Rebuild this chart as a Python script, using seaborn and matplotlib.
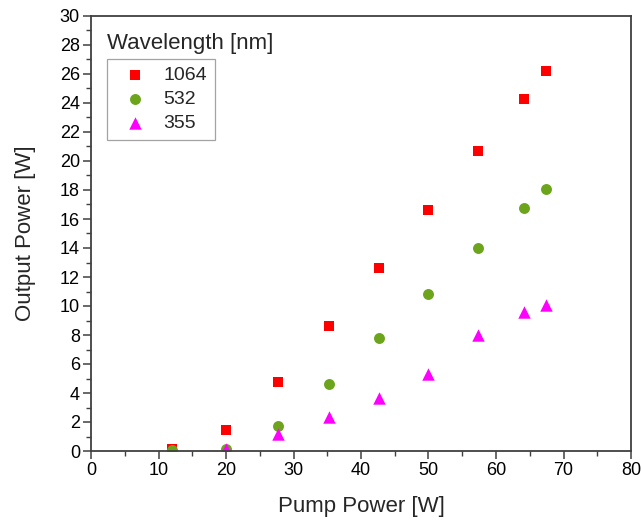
import numpy as np
import pandas as pd
import matplotlib
matplotlib.use("Agg")
import matplotlib.pyplot as plt
import seaborn as sns
from matplotlib.ticker import MultipleLocator

pump_1064 = [12.0, 20.0, 27.7, 35.2, 42.7, 50.0, 57.3, 64.2, 67.4]
out_1064 = [0.15, 1.45, 4.75, 8.65, 12.65, 16.6, 20.7, 24.3, 26.2]
pump_532 = [12.0, 20.0, 27.7, 35.2, 42.7, 50.0, 57.3, 64.2, 67.4]
out_532 = [0.05, 0.15, 1.7, 4.65, 7.8, 10.8, 14.0, 16.75, 18.1]
pump_355 = [20.0, 27.7, 35.2, 42.7, 50.0, 57.3, 64.2, 67.4]
out_355 = [0.15, 1.15, 2.35, 3.65, 5.3, 8.0, 9.6, 10.1]

labels = ["1064", "532", "355"]
colors = ["#FF0000", "#6CA51C", "#FF00FF"]
markers = ["s", "o", "^"]

df = pd.concat([
    pd.DataFrame({"pump": pump_1064, "out": out_1064, "wl": "1064"}),
    pd.DataFrame({"pump": pump_532, "out": out_532, "wl": "532"}),
    pd.DataFrame({"pump": pump_355, "out": out_355, "wl": "355"}),
])

sns.set_style("ticks")
plt.rcParams["font.family"] = ["Liberation Sans", "DejaVu Sans"]

fig = plt.figure(figsize=(6.41, 5.22), dpi=100)
ax = fig.add_axes([91/641, 71/522, 540/641, 435/522])

sizes = {"1064": 55, "532": 62, "355": 80}
for lab, col, mk in zip(labels, colors, markers):
    sub = df[df["wl"] == lab]
    sns.scatterplot(data=sub, x="pump", y="out", color=col, marker=mk,
                    s=sizes[lab], linewidth=0, ax=ax, label=lab)

ax.set_xlim(0, 80)
ax.set_ylim(0, 30)
ax.xaxis.set_major_locator(MultipleLocator(10))
ax.xaxis.set_minor_locator(MultipleLocator(5))
ax.yaxis.set_major_locator(MultipleLocator(2))
ax.yaxis.set_minor_locator(MultipleLocator(1))
ax.tick_params(which="major", direction="out", length=6, width=1.1, color="#404040",
               labelsize=13, labelcolor="black", pad=2)
ax.tick_params(which="minor", direction="out", length=3.5, width=1.0, color="#404040")
for sp in ax.spines.values():
    sp.set_visible(True)
    sp.set_color("#404040")
    sp.set_linewidth(1.3)

ax.set_xlabel("Pump Power [W]", fontsize=16, labelpad=12)
ax.set_ylabel("Output Power [W]", fontsize=16, labelpad=17)

leg = ax.legend(loc="upper left", bbox_to_anchor=(16/540, 392/435), frameon=True,
                fancybox=False, edgecolor="#8c8c8c", fontsize=14,
                handletextpad=0.4, borderpad=0.4, labelspacing=0.32, handlelength=2.1,
                borderaxespad=0)
leg.get_frame().set_linewidth(0.9)
ax.text(16/540, 407/435, "Wavelength [nm]", transform=ax.transAxes,
        fontsize=16, ha="left", va="center")

fig.savefig("out.png", dpi=100)
